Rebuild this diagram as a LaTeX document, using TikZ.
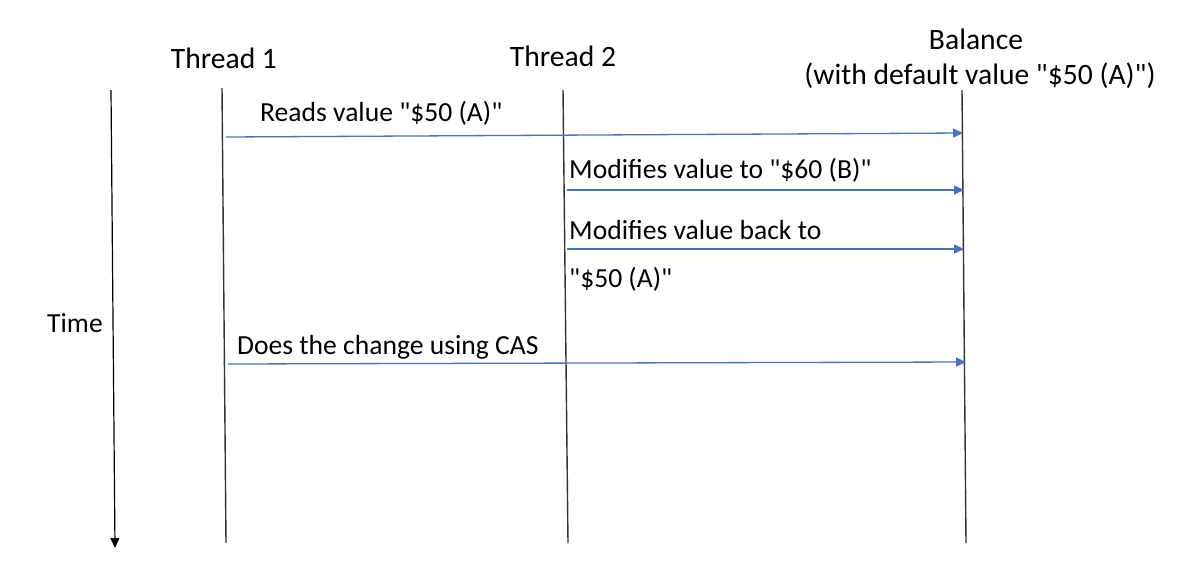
\documentclass[tikz,border=0pt]{standalone}
\usepackage{fontspec}
% no TeX mapping, so " stays a straight quote
\setmainfont{Carlito}[Ligatures=TeXOff]
\usetikzlibrary{arrows.meta}
\definecolor{msgblue}{HTML}{4472C4}
\begin{document}
\begin{tikzpicture}[x=1pt,y=-1pt,
  lifeline/.style={draw=black!80,line width=1.4pt},
  msg/.style={draw=msgblue,line width=1.3pt,-{Triangle[length=10pt,width=9pt]}},
  timeline/.style={draw=black,line width=1.2pt,-{Triangle[length=10pt,width=9pt]}},
  lbl/.style={inner sep=0pt,font=\fontsize{27.6}{33}\selectfont},
  head/.style={inner sep=0pt,font=\fontsize{29.6}{35}\selectfont}]
\useasboundingbox[fill=white] (0,0) rectangle (1198,568);

% lifelines
\coordinate (t1top) at (222,88);
\coordinate (t1bot) at (226,543);
\coordinate (t2top) at (563,90);
\coordinate (t2bot) at (568,543);
\coordinate (bltop) at (962,90);
\coordinate (blbot) at (966,543);
\path[lifeline] (t1top) -- (t1bot);
\path[lifeline] (t2top) -- (t2bot);
\path[lifeline] (bltop) -- (blbot);

% time axis
\coordinate (ttop) at (111,90);
\coordinate (tbot) at (115,548);
\path[timeline] (ttop) -- (tbot);

% headings
\node[head,anchor=base] (h1) at (224,68) {Thread 1};
\node[head,anchor=base] (h2) at (563,66) {Thread 2};
\node[head,anchor=base] (h3) at (976,49) {Balance};
\node[head,anchor=base] (h4) at (980,84) {(with default value "\$50 (A)")};
\node[lbl,anchor=base west] (time) at (47,332) {Time};

% messages
\coordinate (m1s) at (226,137);
\coordinate (m1e) at (963,133);
\coordinate (m2s) at (567,190);
\coordinate (m2e) at (964,190);
\coordinate (m3s) at (567,249);
\coordinate (m3e) at (964,249);
\coordinate (m4s) at (228,364);
\coordinate (m4e) at (966,362);
\path[msg] (m1s) -- (m1e);
\path[msg] (m2s) -- (m2e);
\path[msg] (m3s) -- (m3e);
\path[msg] (m4s) -- (m4e);

\node[lbl,anchor=base west] (l1) at (260,121) {Reads value "\$50 (A)"};
\node[lbl,anchor=base west] (l2) at (569,178) {Modifies value to "\$60 (B)"};
\node[lbl,anchor=base west] (l3) at (569,239) {Modifies value back to};
\node[lbl,anchor=base west] (l4) at (569,287) {"\$50 (A)"};
\node[lbl,anchor=base west] (l5) at (237,354) {Does the change using CAS};
\end{tikzpicture}
\end{document}
